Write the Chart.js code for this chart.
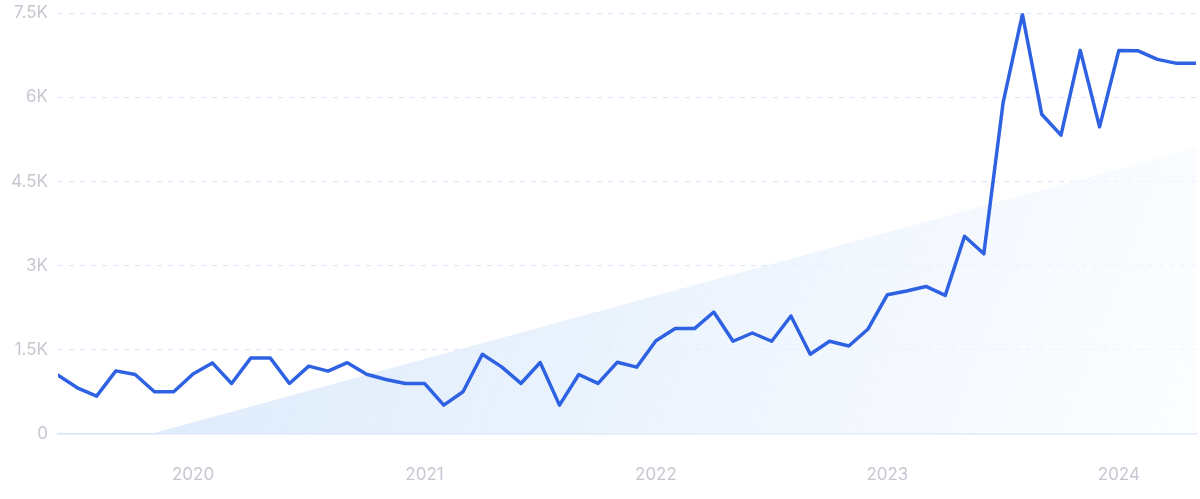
<!DOCTYPE html>
<html>
<head>
<meta charset="utf-8">
<script src="https://cdn.jsdelivr.net/npm/chart.js@4"></script>
<style>
  html, body { margin: 0; padding: 0; background: #ffffff; overflow: hidden; }
  #outer { width: 1200px; height: 499px; position: relative; overflow: hidden; }
  #wrap { width: 1200px; height: 506px; position: absolute; left: 0; top: -7px; }
</style>
</head>
<body>
<div id="outer"><div id="wrap"><canvas id="c"></canvas></div></div>
<script>
// Monthly data, June 2019 – May 2024
const months = [
  '2019-06','2019-07','2019-08','2019-09','2019-10','2019-11','2019-12',
  '2020-01','2020-02','2020-03','2020-04','2020-05','2020-06','2020-07','2020-08','2020-09','2020-10','2020-11','2020-12',
  '2021-01','2021-02','2021-03','2021-04','2021-05','2021-06','2021-07','2021-08','2021-09','2021-10','2021-11','2021-12',
  '2022-01','2022-02','2022-03','2022-04','2022-05','2022-06','2022-07','2022-08','2022-09','2022-10','2022-11','2022-12',
  '2023-01','2023-02','2023-03','2023-04','2023-05','2023-06','2023-07','2023-08','2023-09','2023-10','2023-11','2023-12',
  '2024-01','2024-02','2024-03','2024-04','2024-05'
];
const searches = [
  1050, 823, 675, 1125, 1061, 752, 752,
  1070, 1267, 901, 1356, 1356, 901, 1209, 1120, 1271, 1066, 972, 901,
  901, 515, 752, 1422, 1196, 901, 1274, 515, 1061, 901, 1280, 1191,
  1662, 1879, 1879, 2174, 1653, 1800, 1653, 2103, 1422, 1653, 1569, 1872,
  2483, 2550, 2630, 2470, 3524, 3212, 5906, 7480, 5700, 5327, 6837, 5474,
  6837, 6830, 6677, 6606, 6606
];
// Trend band: start (month position) and end values
const trendPos = [4.8, 59];
const trendVals = [0, 5100];
// Tick labels
const yearLabels = ['2020', '2021', '2022', '2023', '2024'];
const yTicks = [0, 1500, 3000, 4500, 6000, 7500];
const yTickLabels = ['0', '1.5K', '3K', '4.5K', '6K', '7.5K'];

const yearPos = yearLabels.map(y => months.indexOf(y + '-01'));
const lineData = searches.map((v, i) => ({ x: i, y: v }));
const trendData = trendPos.map((p, i) => ({ x: p, y: trendVals[i] }));

function trendFill(ctx) {
  const chart = ctx.chart;
  const a = chart.chartArea;
  if (!a) return 'rgba(225,236,251,0.8)';
  const g = chart.ctx.createLinearGradient(a.left, a.top, a.right, a.bottom);
  g.addColorStop(0, 'rgba(212,229,250,0.9)');
  g.addColorStop(0.5, 'rgba(228,239,252,0.8)');
  g.addColorStop(1, 'rgba(250,252,255,0.6)');
  return g;
}

new Chart(document.getElementById('c'), {
  type: 'line',
  data: {
    datasets: [
      {
        label: 'Searches',
        data: lineData,
        borderColor: '#2f62e3',
        borderWidth: 3.5,
        pointRadius: 0,
        tension: 0,
        fill: false,
        borderJoinStyle: 'round',
        borderCapStyle: 'round',
        order: 0
      },
      {
        label: 'Trend',
        data: trendData,
        borderWidth: 0,
        borderColor: 'rgba(0,0,0,0)',
        backgroundColor: trendFill,
        pointRadius: 0,
        fill: 'origin',
        order: 1
      }
    ]
  },
  options: {
    responsive: true,
    maintainAspectRatio: false,
    animation: false,
    layout: { padding: { top: 5, right: 4, left: 0, bottom: 0 } },
    plugins: { legend: { display: false }, tooltip: { enabled: false } },
    scales: {
      x: {
        type: 'linear',
        min: 0,
        max: months.length - 1,
        afterBuildTicks: (s) => { s.ticks = yearPos.map(v => ({ value: v })); },
        afterFit: (s) => { s.height = 65; },
        grid: { display: false, drawTicks: false },
        border: { display: true, color: '#d3e2f8', width: 1.5 },
        ticks: {
          autoSkip: false,
          maxRotation: 0,
          padding: 31,
          color: '#c6c7d1',
          font: { family: 'Inter', size: 17 },
          callback: (v) => { const k = yearPos.indexOf(v); return k >= 0 ? yearLabels[k] : ''; }
        }
      },
      y: {
        min: 0,
        max: 7500,
        afterBuildTicks: (s) => { s.ticks = yTicks.map(v => ({ value: v })); },
        afterFit: (s) => { s.width = 58; },
        grid: {
          drawTicks: false,
          color: (c) => (c.tick && c.tick.value === 0) ? 'rgba(0,0,0,0)' : '#d6e5f9',
          lineWidth: 1
        },
        border: { display: false, dash: [5, 6] },
        ticks: {
          padding: 10,
          color: '#c6c7d1',
          font: { family: 'Inter', size: 17 },
          callback: (v) => { const k = yTicks.indexOf(v); return k >= 0 ? yTickLabels[k] : ''; }
        }
      }
    }
  }
});
</script>
</body>
</html>
